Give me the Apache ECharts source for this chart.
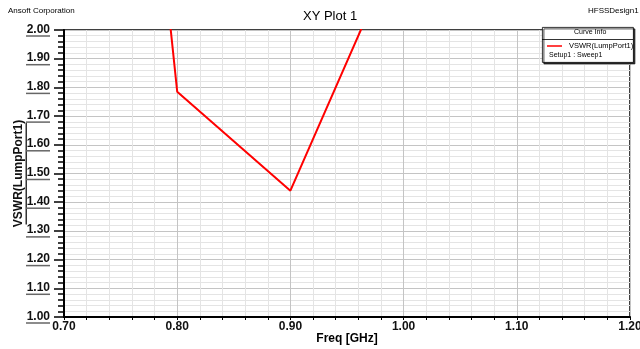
<!DOCTYPE html>
<html>
<head>
<meta charset="utf-8">
<script src="https://cdn.jsdelivr.net/npm/echarts@6/dist/echarts.min.js"></script>
<style>
html,body{margin:0;padding:0;background:#fff;}
#c{width:640px;height:349px;}
</style>
</head>
<body>
<div id="c"></div>
<script>
const freq = [0.70, 0.80, 0.90, 1.00];
const vswr = [5.56, 1.785, 1.44, 2.34];
const seriesName = 'VSWR(LumpPort1)';
const xTicks = { min: 0.70, max: 1.20, step: 0.10 };
const yTicks = { min: 1.00, max: 2.00, step: 0.10 };

const chart = echarts.init(document.getElementById('c'), null, { renderer: 'canvas' });
const font = 'Arial, "Liberation Sans", sans-serif';

chart.setOption({
  animation: false,
  backgroundColor: '#fff',
  title: {
    text: 'XY Plot 1',
    left: 298,
    top: 5,
    textStyle: { fontFamily: font, fontSize: 13, fontWeight: 'normal', color: '#000' }
  },
  grid: {
    left: 64, right: 10, top: 30, bottom: 32,
    outerBoundsMode: 'none',
    containLabel: false,
    show: true, borderColor: '#000', borderWidth: 1.5, backgroundColor: 'transparent'
  },
  legend: {
    data: [seriesName],
    left: 547, top: 42,
    icon: 'rect',
    itemWidth: 15, itemHeight: 1.5, itemGap: 4,
    padding: 0,
    z: 20,
    textStyle: { fontFamily: font, fontSize: 7.5, color: '#000', padding: [0, 0, 0, 2] }
  },
  xAxis: {
    type: 'value',
    min: xTicks.min, max: xTicks.max, interval: xTicks.step,
    name: 'Freq [GHz]',
    nameLocation: 'middle',
    nameGap: 16,
    nameMoveOverlap: false,
    nameTextStyle: { fontFamily: font, fontSize: 12, fontWeight: 'bold', color: '#000' },
    axisLine: { show: true, onZero: false, lineStyle: { color: '#000', width: 2 } },
    axisTick: { show: true, length: 3, lineStyle: { color: '#000' } },
    minorTick: { show: true, splitNumber: 5, length: 3, lineStyle: { color: '#000' } },
    splitLine: { show: true, lineStyle: { color: '#c4c4c4', width: 1 } },
    minorSplitLine: { show: true, lineStyle: { color: '#e4e4e4', width: 1 } },
    axisLabel: {
      fontFamily: font, fontSize: 12, fontWeight: 'bold', color: '#111', margin: 4,
      formatter: v => v.toFixed(2)
    }
  },
  yAxis: {
    type: 'value',
    min: yTicks.min, max: yTicks.max, interval: yTicks.step,
    name: '{n|' + seriesName + '}\n{u|}',
    nameLocation: 'middle',
    nameGap: 37,
    nameMoveOverlap: false,
    nameTextStyle: {
      rich: {
        n: { fontFamily: font, fontSize: 12, fontWeight: 'bold', color: '#111', height: 13 },
        u: { width: 102, height: 1.5, backgroundColor: '#333' }
      }
    },
    axisLine: { show: true, onZero: false, lineStyle: { color: '#000', width: 2 } },
    axisTick: { show: true, length: 10, lineStyle: { color: '#000', width: 1.5 } },
    minorTick: { show: true, splitNumber: 5, length: 6, lineStyle: { color: '#000', width: 1.5 } },
    splitLine: { show: true, lineStyle: { color: '#c4c4c4', width: 1 } },
    minorSplitLine: { show: true, lineStyle: { color: '#e4e4e4', width: 1 } },
    axisLabel: {
      margin: 14,
      formatter: v => '{a|' + v.toFixed(2) + '}\n{u|}',
      rich: {
        a: { fontFamily: font, fontSize: 12, fontWeight: 'bold', color: '#111', height: 12 },
        u: { width: 24, height: 1.5, backgroundColor: '#666' }
      }
    }
  },
  series: [{
    name: seriesName,
    type: 'line',
    data: freq.map((f, i) => [f, vswr[i]]),
    symbol: 'none',
    showSymbol: false,
    clip: true,
    lineStyle: { color: '#ff0000', width: 2 },
    itemStyle: { color: '#ff0000' }
  }],
  graphic: [
    { type: 'text', left: 8, top: 7, style: { text: 'Ansoft Corporation', font: '8px ' + font, fill: '#000' } },
    { type: 'text', left: 588, top: 7, style: { text: 'HFSSDesign1', font: '8px ' + font, fill: '#000' } },
    {
      type: 'rect', left: 542, top: 27, z: 10,
      shape: { width: 91, height: 35 },
      style: { fill: '#fff', stroke: '#000', lineWidth: 0.8, shadowColor: '#222', shadowOffsetX: 1.5, shadowOffsetY: 1.5, shadowBlur: 0 }
    },
    { type: 'line', z: 11, shape: { x1: 542, y1: 39.5, x2: 633, y2: 39.5 }, style: { stroke: '#000', lineWidth: 0.8 } },
    { type: 'text', z: 11, left: 574, top: 29, style: { text: 'Curve Info', font: '7px ' + font, fill: '#000' } },
    { type: 'text', z: 11, left: 549, top: 52, style: { text: 'Setup1 : Sweep1', font: '7px ' + font, fill: '#000' } }
  ]
});
</script>
</body>
</html>
